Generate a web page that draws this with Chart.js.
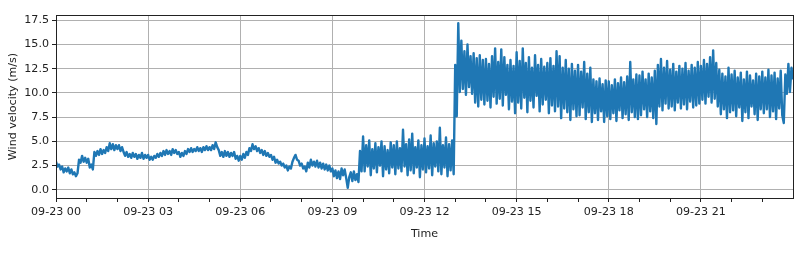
<!DOCTYPE html>
<html>
<head>
<meta charset="utf-8">
<script src="https://cdn.jsdelivr.net/npm/chart.js@4/dist/chart.umd.min.js"></script>
<style>
  html, body { margin: 0; padding: 0; background: #fff; }
  #wrap { width: 800px; height: 262px; }
</style>
</head>
<body>
<div id="wrap"><canvas id="myChart" width="800" height="262"></canvas></div>
<script>
// samples every 3 minutes, starting 09-23 00:00
const stepMinutes = 3;

// wind velocity (m/s), one row per hour
const windSpeed = [
  2.9, 2.4, 2.6, 2.1, 2.4, 1.8, 2.2, 1.9, 2.3, 1.7, 2.1, 1.6, 1.8, 1.4, 1.7, 3.1, 2.8, 3.5, 2.9, 3.3,
  2.8, 3.2, 2.3, 2.6, 2.1, 3.9, 3.5, 4.0, 3.6, 4.2, 3.7, 4.1, 3.8, 4.4, 4.0, 4.8, 4.2, 4.7, 4.1, 4.6,
  4.2, 4.6, 4.0, 4.4, 3.9, 3.5, 3.9, 3.4, 3.7, 3.3, 3.8, 3.4, 3.7, 3.2, 3.6, 3.3, 3.8, 3.2, 3.6, 3.3,
  3.6, 3.1, 3.4, 3.1, 3.5, 3.3, 3.7, 3.4, 3.8, 3.5, 4.0, 3.6, 4.1, 3.7, 4.0, 3.6, 4.2, 3.8, 4.1, 3.7,
  3.9, 3.4, 3.8, 3.5, 4.0, 3.7, 4.2, 3.9, 4.3, 3.9, 4.2, 4.0, 4.4, 4.0, 4.3, 3.9, 4.4, 4.1, 4.5, 4.1,
  4.4, 4.1, 4.6, 4.2, 4.9, 4.4, 4.1, 3.5, 3.9, 3.4, 4.0, 3.5, 3.9, 3.4, 3.8, 3.5, 3.9, 3.2, 3.5, 3.0,
  3.5, 3.1, 3.7, 3.3, 3.9, 3.6, 4.3, 4.0, 4.7, 4.2, 4.5, 4.0, 4.3, 3.8, 4.1, 3.6, 4.0, 3.5, 3.8, 3.4,
  3.6, 3.1, 3.4, 2.8, 3.1, 2.7, 2.9, 2.5, 2.7, 2.3, 2.5, 2.0, 2.4, 2.2, 2.9, 3.3, 3.6, 3.1, 3.0, 2.5,
  2.7, 2.2, 2.4, 1.9, 2.8, 2.3, 3.1, 2.5, 2.9, 2.4, 3.0, 2.3, 2.8, 2.2, 2.7, 2.1, 2.6, 2.0, 2.5, 1.9,
  2.2, 1.4, 2.0, 1.2, 1.9, 1.1, 2.2, 1.5, 2.1, 1.2, 0.2, 1.3, 1.8, 0.9, 1.9, 1.0, 1.6, 0.8, 4.0, 1.9,
  5.5, 1.9, 4.6, 2.4, 5.1, 1.5, 4.2, 2.2, 4.8, 1.8, 4.4, 2.5, 5.0, 1.4, 4.5, 2.1, 4.1, 1.7, 4.9, 2.3,
  4.6, 1.6, 5.0, 2.2, 4.3, 1.9, 6.2, 2.4, 4.7, 1.5, 5.2, 2.0, 5.8, 1.7, 4.4, 2.3, 5.1, 1.3, 4.6, 2.1,
  5.3, 1.8, 4.5, 2.2, 5.6, 1.5, 4.8, 2.4, 5.0, 1.9, 6.4, 1.6, 4.6, 2.3, 5.4, 1.4, 4.7, 2.0, 5.1, 1.6,
  12.9, 7.6, 17.2, 10.1, 15.4, 10.4, 14.3, 9.8, 15.0, 10.6, 13.8, 9.9, 14.1, 9.0, 13.6, 8.6, 13.9, 9.3, 13.4, 8.8,
  13.5, 9.2, 13.0, 8.5, 13.8, 9.6, 14.6, 8.9, 13.2, 9.4, 14.5, 8.7, 13.7, 9.8, 12.9, 8.3, 13.4, 9.1, 12.8, 7.9,
  14.2, 9.0, 13.3, 8.4, 14.6, 9.5, 13.1, 8.0, 13.7, 9.2, 12.6, 8.5, 13.9, 9.7, 12.9, 8.1, 13.5, 8.8, 12.7, 9.3,
  13.1, 7.9, 13.6, 8.7, 12.8, 8.1, 14.3, 8.6, 13.8, 7.4, 12.6, 8.4, 13.4, 8.0, 12.5, 7.2, 13.0, 8.3, 12.3, 7.6,
  12.9, 7.7, 12.2, 8.5, 13.2, 7.3, 12.0, 8.0, 12.6, 7.0, 11.4, 7.9, 11.2, 7.2, 11.5, 8.1, 10.9, 7.0, 11.3, 7.6,
  11.2, 7.3, 10.8, 7.9, 11.4, 7.1, 11.0, 8.2, 11.6, 7.4, 11.1, 7.8, 11.7, 7.2, 13.2, 8.0, 11.4, 7.5, 11.9, 7.3,
  11.8, 7.7, 12.2, 8.3, 11.4, 7.5, 12.0, 8.1, 11.6, 7.4, 12.3, 6.8, 12.9, 8.6, 13.5, 8.2, 12.6, 8.9, 13.3, 8.4,
  12.4, 8.6, 13.0, 8.2, 12.2, 9.0, 12.8, 8.4, 12.5, 8.8, 13.1, 8.3, 12.3, 9.1, 12.9, 8.5, 12.6, 8.7, 13.2, 8.9,
  12.8, 9.3, 13.4, 8.9, 13.0, 9.6, 13.7, 9.0, 14.4, 9.4, 13.1, 8.6, 12.4, 7.8, 12.0, 8.3, 11.7, 7.4, 12.6, 8.0,
  11.9, 8.2, 12.3, 7.6, 11.6, 8.5, 12.1, 7.1, 11.4, 8.0, 12.2, 7.4, 11.8, 8.6, 11.3, 7.8, 12.0, 7.2, 11.7, 8.3,
  12.2, 7.9, 11.6, 8.3, 12.4, 7.5, 11.8, 8.1, 12.1, 7.3, 11.5, 8.4, 12.3, 7.7, 6.9, 11.9, 9.9, 13.0, 10.1, 12.6,
  11.4
];

// x axis (hours since 09-23 00)
const hourTicks = [0, 1, 2, 3, 4, 5, 6, 7, 8, 9, 10, 11, 12, 13, 14, 15, 16, 17, 18, 19, 20, 21, 22, 23];
const tickLabels = ["09-23 00", "09-23 03", "09-23 06", "09-23 09", "09-23 12", "09-23 15", "09-23 18", "09-23 21"];
const yTicks = [0, 2.5, 5, 7.5, 10, 12.5, 15, 17.5];

const points = windSpeed.map((v, i) => ({ x: (i * stepMinutes) / 60, y: v }));

const textColor = "#222";
const gridColor = "#b0b0b0";
const font = { family: "DejaVu Sans", size: 11.1 };

// matplotlib style box around the plot area
const frame = {
  id: "frame",
  afterDraw(chart) {
    const { ctx, chartArea } = chart;
    ctx.save();
    ctx.strokeStyle = textColor;
    ctx.lineWidth = 1;
    ctx.strokeRect(
      Math.round(chartArea.left) + 0.5,
      Math.round(chartArea.top) + 0.5,
      Math.round(chartArea.right - chartArea.left),
      Math.round(chartArea.bottom - chartArea.top)
    );
    ctx.restore();
  },
};

const config = {
  type: "line",
  data: {
    datasets: [
      {
        label: "Wind velocity",
        data: points,
        borderColor: "#1f77b4",
        backgroundColor: "#1f77b4",
        borderWidth: 2.4,
        borderJoinStyle: "round",
        pointRadius: 0,
        tension: 0,
      },
    ],
  },
  options: {
    responsive: false,
    animation: false,
    layout: { padding: { top: 15, right: 7, left: 0, bottom: 0 } },
    plugins: { legend: { display: false }, tooltip: { enabled: false } },
    scales: {
      x: {
        type: "linear",
        min: 0,
        max: 24,
        afterBuildTicks: (scale) => {
          scale.ticks = hourTicks.map((v) => ({ value: v }));
        },
        afterFit: (scale) => {
          scale.height = 64;
        },
        ticks: {
          autoSkip: false,
          maxRotation: 0,
          padding: 3,
          color: textColor,
          font: font,
          callback: (v) => (v % 3 === 0 ? tickLabels[v / 3] : ""),
        },
        grid: {
          color: (ctx) => (ctx.tick && ctx.tick.value % 3 === 0 ? gridColor : "rgba(0,0,0,0)"),
          tickColor: textColor,
          tickLength: 4,
          lineWidth: 1,
        },
        border: { display: true, color: textColor },
        title: {
          display: true,
          text: "Time",
          color: textColor,
          font: font,
          padding: { top: 0, bottom: 21 },
        },
      },
      y: {
        min: -0.85,
        max: 18.05,
        afterBuildTicks: (scale) => {
          scale.ticks = yTicks.map((v) => ({ value: v }));
        },
        afterFit: (scale) => {
          scale.width = 56;
        },
        ticks: {
          padding: 3,
          color: textColor,
          font: font,
          callback: (v) => v.toFixed(1),
        },
        grid: { color: gridColor, tickColor: textColor, tickLength: 4, lineWidth: 1 },
        border: { display: true, color: textColor },
        title: {
          display: true,
          text: "Wind velocity (m/s)",
          color: textColor,
          font: font,
          padding: { top: 6, bottom: 0 },
        },
      },
    },
  },
  plugins: [frame],
};

const myChart = new Chart(document.getElementById("myChart"), config);
</script>
</body>
</html>
